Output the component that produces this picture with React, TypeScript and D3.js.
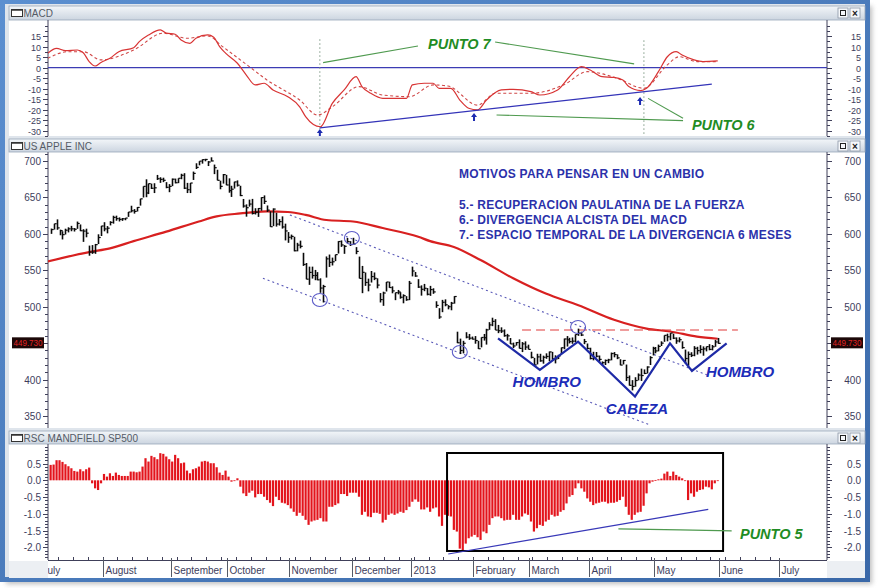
import React, { useEffect, useRef } from "react";
import * as d3 from "d3";

// ---------------- DATA ----------------
const monthLabels = ["July", "August", "September", "October", "November", "December", "2013", "February", "March", "April", "May", "June", "July"];
const monthStarts = [-21, 0, 23, 42, 63, 84, 104, 125, 144, 164, 186, 208, 228];
const firstBarIndex = -18;

// [high, low, close] per trading day
const barsJul = [[607.3, 600.0, 605.9], [613.9, 605.9, 613.9], [619.9, 605.6, 608.2], [605.8, 598.1, 604.4], [603.6, 592.3, 598.9], [607.1, 599.1, 605.0], [609.0, 602.0, 606.9], [611.0, 603.6, 606.9], [608.0, 603.2, 606.3], [616.9, 606.9, 614.3], [612.9, 603.7, 604.3], [606.4, 589.0, 603.8], [607.1, 595.3, 600.9], [583.9, 570.0, 575.0], [584.6, 572.5, 574.9], [586.2, 572.6, 585.2], [599.4, 586.0, 595.0], [611.0, 597.1, 610.8]];
const barsAug = [[616.0, 603.5, 606.8], [610.7, 600.7, 607.8], [617.4, 611.6, 615.7], [624.9, 614.0, 622.6], [625.0, 618.0, 620.9], [622.6, 617.0, 619.9], [621.8, 617.8, 620.7], [621.8, 618.7, 621.7], [630.0, 623.3, 630.0], [638.6, 629.5, 631.7], [634.0, 627.8, 630.8], [636.8, 630.7, 636.3], [648.2, 638.8, 648.1], [665.2, 649.9, 665.2], [674.9, 650.3, 656.1], [669.0, 654.6, 668.9], [669.0, 661.6, 662.6], [669.5, 656.0, 663.2], [680.9, 674.0, 675.7], [677.7, 670.0, 674.8], [677.1, 671.0, 673.5], [671.0, 662.6, 663.9], [668.3, 657.2, 665.2]];
const barsSep = [[676.0, 665.5, 675.0], [675.9, 669.3, 670.2], [676.3, 669.6, 676.3], [682.5, 675.0, 680.4], [683.3, 661.5, 662.7], [670.0, 656.0, 660.6], [669.9, 656.0, 669.8], [685.5, 674.0, 683.0], [696.9, 689.0, 691.3], [699.8, 694.1, 699.8], [702.3, 696.4, 701.9], [703.0, 699.6, 702.1], [699.9, 693.1, 698.7], [705.1, 699.4, 700.1], [695.1, 682.0, 690.8], [688.0, 673.4, 673.5], [673.0, 661.2, 665.2], [682.2, 669.0, 681.3], [681.0, 666.8, 667.1]];
const barsOct = [[676.2, 656.5, 659.4], [666.0, 650.7, 661.3], [671.6, 662.2, 671.3], [673.4, 664.9, 666.8], [666.0, 651.8, 652.6], [647.9, 636.0, 638.2], [640.5, 623.6, 635.9], [647.0, 637.4, 640.9], [648.0, 626.6, 628.1], [635.2, 626.6, 629.7], [635.5, 623.3, 634.8], [650.3, 631.7, 649.8], [652.8, 641.0, 644.6], [639.0, 630.1, 632.6], [631.0, 609.6, 609.8], [635.0, 610.6, 634.0], [628.9, 610.0, 613.4], [620.3, 611.4, 616.8], [624.0, 607.2, 609.5], [614.0, 591.0, 604.0], [602.5, 587.7, 595.3]];
const barsNov = [[599.0, 592.3, 596.5], [596.0, 576.0, 576.8], [587.7, 576.0, 584.6], [590.7, 580.1, 582.9], [574.0, 556.0, 558.0], [560.0, 537.6, 537.8], [555.0, 530.0, 547.1], [555.0, 538.6, 542.8], [550.5, 536.4, 542.9], [547.5, 536.3, 536.9], [539.0, 519.1, 525.6], [530.0, 505.8, 527.7], [569.0, 540.0, 565.7], [571.6, 554.6, 560.9], [567.4, 556.6, 561.7], [571.5, 562.6, 571.5], [590.0, 573.0, 589.5], [591.0, 582.1, 584.8], [584.6, 572.6, 582.9], [594.3, 586.8, 589.4], [590.0, 583.3, 585.3]];
const barsDec = [[594.6, 585.5, 586.2], [581.8, 572.1, 575.9], [568.8, 538.8, 538.8], [556.0, 518.6, 547.2], [547.0, 528.6, 533.3], [538.5, 521.1, 529.8], [549.0, 533.2, 541.4], [547.0, 536.5, 539.0], [539.0, 525.2, 529.7], [518.7, 505.8, 509.8], [520.6, 501.2, 518.8], [533.9, 520.9, 533.9], [534.4, 525.9, 526.3], [528.0, 518.4, 521.7], [519.3, 509.0, 519.3], [523.0, 517.0, 520.2], [519.9, 511.0, 513.0], [517.0, 504.7, 515.1], [514.5, 508.1, 509.6], [535.4, 509.0, 532.2]];
const barsJan = [[555.0, 541.6, 549.0], [547.7, 541.0, 542.1], [537.8, 525.8, 527.0], [529.3, 515.2, 523.9], [531.3, 521.3, 525.3], [525.6, 515.6, 517.1], [528.6, 514.9, 523.5], [525.3, 517.7, 520.3], [507.5, 498.5, 501.8], [498.0, 483.4, 485.9], [509.4, 492.5, 506.1], [510.1, 500.6, 502.7], [502.2, 496.4, 500.0], [506.6, 495.1, 504.8], [514.5, 504.2, 514.0], [465.7, 450.0, 450.5], [456.2, 435.0, 439.9], [453.2, 435.9, 449.8], [465.0, 456.6, 458.3], [462.6, 454.5, 456.8], [459.0, 455.0, 455.5]];
const barsFeb = [[459.7, 449.2, 453.6], [453.2, 442.0, 442.3], [458.0, 444.2, 457.8], [462.6, 453.5, 457.4], [469.7, 448.0, 468.2], [478.8, 468.3, 475.0], [484.9, 473.3, 479.9], [482.9, 467.9, 467.9], [475.0, 463.7, 467.0], [471.7, 464.0, 466.6], [468.8, 458.8, 460.2], [462.7, 453.5, 460.0], [457.0, 448.7, 448.9], [450.7, 443.3, 446.1], [451.5, 446.6, 450.8], [455.1, 442.6, 442.8], [451.5, 437.7, 449.0], [452.4, 440.7, 444.6], [447.9, 441.4, 441.4]];
const barsMar = [[438.2, 429.0, 430.5], [429.8, 419.0, 420.1], [435.4, 420.8, 431.1], [435.4, 424.4, 425.7], [432.8, 421.8, 430.6], [436.0, 428.5, 431.7], [438.5, 425.1, 437.9], [438.0, 427.2, 428.4], [433.3, 422.2, 428.4], [434.0, 428.1, 432.5], [444.0, 435.0, 443.7], [456.3, 441.6, 455.7], [459.7, 445.3, 454.5], [457.3, 449.6, 452.1], [457.8, 449.1, 452.7], [462.0, 451.0, 461.9], [469.9, 460.0, 463.6], [465.7, 459.7, 461.1], [455.8, 448.6, 452.1], [449.5, 441.6, 442.7]];
const barsApr = [[443.7, 427.7, 428.9], [438.1, 426.4, 429.8], [437.8, 430.3, 432.0], [433.0, 424.4, 427.7], [424.9, 419.7, 423.2], [427.5, 420.0, 426.2], [428.5, 422.5, 427.0], [437.1, 426.4, 435.7], [437.7, 430.5, 434.3], [434.6, 428.0, 429.8], [427.9, 419.6, 419.9], [426.9, 420.7, 426.2], [420.6, 398.1, 402.8], [405.6, 391.7, 392.1], [399.2, 385.1, 390.5], [403.2, 390.3, 398.7], [408.4, 398.8, 406.1], [415.0, 398.1, 405.5], [413.9, 407.4, 408.4], [418.2, 408.3, 417.2], [432.1, 420.0, 430.1], [445.0, 433.1, 442.8]];
const barsMay = [[444.7, 436.1, 439.3], [448.0, 438.7, 445.5], [452.5, 446.1, 450.0], [460.7, 451.8, 460.7], [463.0, 452.5, 458.7], [463.8, 454.0, 463.8], [463.0, 455.6, 456.8], [457.9, 449.1, 453.0], [458.0, 451.0, 454.7], [452.5, 442.3, 443.9], [441.1, 422.0, 428.9], [438.5, 418.9, 434.6], [437.5, 430.9, 433.3], [445.9, 432.0, 442.9], [445.0, 434.3, 439.7], [447.2, 436.0, 441.4], [445.5, 432.7, 442.1], [445.3, 438.7, 445.2], [448.6, 440.2, 441.4], [447.4, 440.1, 445.0], [454.4, 445.0, 451.6], [457.1, 449.0, 449.7]];
const lastPrice = 449.73;

// moving average [barIndex, value]
const maPoints = [[-19, 562], [-5, 575], [2, 580], [10, 590], [21, 603], [32, 617], [38, 624], [46, 628], [55, 631], [62, 630], [68, 626], [75, 619], [84, 617], [94, 608], [106, 596], [110, 590], [118, 582], [127, 564], [138, 539], [149, 518], [160, 502], [172, 482], [183, 470], [191, 466], [200, 459], [207, 456]];

// MACD and signal [barIndex, value]
const macdLine = [[-19, 6.9], [-16, 9.2], [-13, 8.1], [-9, 8.4], [-7, 7.1], [-5, 2.9], [-3, 0.8], [-1, 2.5], [2, 4.5], [5, 7.6], [10, 9.5], [12, 12.5], [15, 15.5], [19, 18.0], [21, 16.4], [24, 15.9], [26, 13.2], [29, 11.6], [31, 14.0], [35, 15.6], [37, 14.5], [39, 10.0], [41, 6.9], [45, 2.1], [48, -3.5], [51, -8.2], [54, -7.4], [57, -10.6], [62, -13.8], [66, -18.6], [68, -23.3], [73, -28.1], [77, -17.0], [81, -10.6], [85, -4.3], [87, -9.0], [90, -12.2], [94, -14.6], [98, -14.6], [102, -14.6], [104, -8.2], [108, -7.4], [111, -7.4], [113, -9.8], [117, -9.8], [120, -15.4], [123, -19.3], [126, -20.1], [129, -15.4], [134, -10.6], [138, -10.3], [144, -11.4], [147, -13.0], [153, -10.6], [157, -4.3], [161, 0.5], [164, -1.1], [168, -4.3], [172, -4.6], [175, -5.9], [177, -9.0], [181, -10.9], [183, -9.8], [187, -1.9], [190, 5.2], [193, 7.6], [195, 6.0], [199, 3.7], [202, 2.9], [207, 3.2]];
const macdSignal = [[-19, 4.5], [-12, 7.6], [-7, 7.6], [-1, 3.7], [10, 8.4], [20, 16.4], [28, 14.0], [35, 15.1], [40, 10.0], [49, 0.5], [55, -5.9], [66, -15.4], [72, -22.5], [77, -18.6], [86, -9.0], [94, -13.0], [103, -13.8], [111, -8.2], [116, -8.7], [126, -17.8], [132, -12.2], [144, -12.2], [155, -8.2], [163, -1.9], [173, -5.0], [182, -9.8], [190, 1.3], [194, 5.2], [200, 2.9], [207, 2.9]];

// RSC Mansfield vs SP500, one value per bar from index -18
const rscValues = [
  0.46, 0.47, 0.6, 0.6, 0.55, 0.48, 0.42, 0.36, 0.28, 0.26, 0.33, 0.27, 0.33, 0.38, -0.09, -0.24, -0.29, -0.09,
  0.19, 0.11, 0.21, 0.13, 0.23, 0.16, 0.13, 0.13, 0.13, 0.26,
  0.26, 0.24, 0.26, 0.41, 0.66, 0.56, 0.73, 0.69, 0.63, 0.81,
  0.79, 0.71, 0.63, 0.56, 0.76, 0.66, 0.51, 0.53, 0.29, 0.21,
  0.33, 0.36, 0.41, 0.56, 0.58, 0.56, 0.51, 0.51, 0.39, 0.23,
  0.16, 0.29, 0.11, -0.04, -0.01, 0.06, -0.19, -0.39, -0.47, -0.37,
  -0.31, -0.51, -0.41, -0.41, -0.49, -0.59, -0.67, -0.77, -0.49, -0.59,
  -0.67, -0.69, -0.74, -0.84, -0.94, -1.06, -0.97, -1.06, -1.18, -1.33,
  -1.23, -1.2, -1.18, -1.13, -1.23, -1.23, -0.79, -0.79, -0.74, -0.69,
  -0.41, -0.41, -0.47, -0.37, -0.37, -0.37, -0.49, -1.03, -0.94, -1.08,
  -1.1, -0.97, -0.97, -1.0, -1.26, -1.18, -1.03, -0.99, -1.03, -0.99,
  -0.94, -0.97, -0.89, -0.79, -0.64, -0.57, -0.64, -0.87, -0.87, -0.81,
  -0.94, -0.84, -0.81, -1.08, -1.36, -1.03, -1.06, -1.08, -1.48, -1.53,
  -2.04, -2.13, -1.89, -1.73, -1.68, -1.63, -1.7, -1.78, -1.53, -1.58,
  -1.33, -1.13, -1.08, -1.08, -1.13, -1.2, -1.18, -1.18, -1.03, -1.18,
  -1.18, -1.08, -0.99, -1.03, -1.23, -1.53, -1.43, -1.33, -1.36, -1.23,
  -1.18, -1.03, -1.08, -1.06, -0.94, -0.89, -0.69, -0.49, -0.44, -0.24,
  -0.09, -0.24, -0.34, -0.54, -0.64, -0.74, -0.69, -0.67, -0.64, -0.64,
  -0.69, -0.67, -0.67, -0.64, -0.59, -0.49, -0.79, -1.03, -1.18, -1.03,
  -0.96, -0.94, -0.76, -0.39, -0.09, -0.04, 0.01, 0.03, 0.05, 0.2,
  0.26, 0.13, 0.26, 0.16, 0.11, 0.06, -0.01, -0.59, -0.39, -0.49,
  -0.34, -0.29, -0.27, -0.19, -0.21, -0.27, -0.09, -0.01
];

// tick labels (450 is hidden under the last-price box)
const macdTicks = [15, 10, 5, 0, -5, -10, -15, -20, -25, -30];
const priceTicks = [700, 650, 600, 550, 500, 400, 350];
const priceTickHidden = [450];
const rscTicks = [0.5, 0, -0.5, -1, -1.5, -2];

// annotations (data coordinates)
const macdSupport = [[72.8, -28.6], [205, -7.8]];
const macdVLines = [[72.8, 13.5, -30.5], [182.1, 13, -32.5]];
const macdArrows = [[72.8, -29.2], [124.8, -21.6], [180.8, -14.0]];
const punto7Lines = [[[73.9, 2.4], [105.9, 10.3]], [[131.9, 12.2], [178.8, 1.8]]];
const punto6Lines = [[[132.4, -22.5], [195.3, -25.2]], [[183.5, -14.6], [195.3, -24.1]]];
const punto7Label = [109.3, 8.9];
const punto6Label = [198.3, -29.7];
const channelUpper = [[62.7, 626], [203.4, 406.3]];
const channelLower = [[53.6, 539], [184.1, 337.7]];
const circles = [[72.8, 509.2], [83.6, 594.3], [120, 437.9], [159.9, 472.2]];
const resistance = [[141, 468], [213.8, 468]];
const headShoulders = [[132.9, 456.7], [147, 413.2], [159.9, 452.1], [179.1, 376.6], [190.9, 449.8], [198.3, 411.8], [210, 449.8]];
const notes = ["MOTIVOS PARA PENSAR EN UN CAMBIO", "5.- RECUPERACION PAULATINA DE LA FUERZA", "6.- DIVERGENCIA ALCISTA DEL MACD", "7.- ESPACIO TEMPORAL DE LA DIVERGENCIA 6 MESES"];
const notePos = [[119.7, 677], [119.7, 634.1], [119.7, 613.1], [119.7, 592.5]];
const patternLabels = [["HOMBRO", 137.8, 390.2], ["CABEZA", 169.2, 352.3], ["HOMBRO", 203, 403]];
const rscBox = [[115.7, 0.815], [208.8, -2.11]];
const rscSupport = [[116.1, -2.2], [203.8, -0.866]];
const punto5Line = [[173.5, -1.45], [194.3, -1.48], [211.7, -1.51]];
const punto5Label = [214.5, -1.75];

const FONT = "'Liberation Sans', Arial, Helvetica, sans-serif";

export default function App() {
  const ref = useRef<SVGSVGElement | null>(null);

  useEffect(() => {
    const svg = d3.select(ref.current);
    svg.selectAll("*").remove();

    const L = 48, R = 827, PX0 = 9, PX1 = 865;
    const P1 = { hdr: 6, top: 20, bottom: 136, title: "MACD" };
    const P2 = { hdr: 139, top: 152, bottom: 428, title: "US APPLE INC" };
    const P3 = { hdr: 431, top: 444, bottom: 560, title: "RSC MANDFIELD SP500" };

    const x = d3.scaleLinear().domain([0, 228]).range([104, 780]);
    const yM = d3.scaleLinear().domain([-32.5, 22.2]).range([P1.bottom, 21]);
    const yP = d3.scaleLinear().domain([333.5, 711]).range([P2.bottom, 153]);
    const yR = d3.scaleLinear().domain([-2.379, 1.054]).range([P3.bottom, 445]);

    const defs = svg.append("defs");
    const flt = defs.append("filter").attr("id", "shadow").attr("x", "-5%").attr("y", "-5%").attr("width", "110%").attr("height", "110%");
    flt.append("feGaussianBlur").attr("stdDeviation", 2.5);
    const grad = defs.append("linearGradient").attr("id", "hdr").attr("x1", 0).attr("y1", 0).attr("x2", 0).attr("y2", 1);
    grad.append("stop").attr("offset", "0%").attr("stop-color", "#f3f6f9");
    grad.append("stop").attr("offset", "100%").attr("stop-color", "#ccd5e0");
    const bgrad = defs.append("linearGradient").attr("id", "frame").attr("x1", 0).attr("y1", 0).attr("x2", 1).attr("y2", 1);
    bgrad.append("stop").attr("offset", "0%").attr("stop-color", "#5b8fd0");
    bgrad.append("stop").attr("offset", "100%").attr("stop-color", "#3a68a8");

    [P1, P2, P3].forEach((p, i) => {
      defs.append("clipPath").attr("id", "clip" + i).append("rect")
        .attr("x", L).attr("y", p.top).attr("width", R - L).attr("height", p.bottom - p.top);
    });
    defs.append("clipPath").attr("id", "clipAxis").append("rect").attr("x", L).attr("y", 555).attr("width", R - L).attr("height", 25);

    // background, shadow and window frame
    svg.append("rect").attr("width", 878).attr("height", 588).attr("fill", "#ffffff");
    svg.append("rect").attr("x", 6).attr("y", 6).attr("width", 866).attr("height", 578).attr("fill", "#8a8a8a").attr("opacity", 0.55).attr("filter", "url(#shadow)");
    svg.append("rect").attr("x", 2.5).attr("y", 1.5).attr("width", 865).attr("height", 578).attr("fill", "#dfe5ec").attr("stroke", "url(#frame)").attr("stroke-width", 5);

    const panel = (p: any) => {
      svg.append("rect").attr("x", PX0).attr("y", p.top).attr("width", PX1 - PX0).attr("height", p.bottom - p.top + (p === P3 ? 18 : 0)).attr("fill", "#ffffff");
      svg.append("rect").attr("x", PX0).attr("y", p.hdr).attr("width", PX1 - PX0).attr("height", p.top - p.hdr).attr("fill", "url(#hdr)").attr("stroke", "#9aa8b8").attr("stroke-width", 0.8);
      svg.append("rect").attr("x", 11.5).attr("y", p.hdr + 3.5).attr("width", 11).attr("height", 7).attr("fill", "#ffffff").attr("stroke", "#333").attr("stroke-width", 1);
      svg.append("line").attr("x1", 11.5).attr("x2", 22.5).attr("y1", p.hdr + 4).attr("y2", p.hdr + 4).attr("stroke", "#333").attr("stroke-width", 1.5);
      svg.append("text").attr("x", 23.5).attr("y", p.hdr + 10.5).attr("font-family", FONT).attr("font-size", 10).attr("fill", "#555b66").text(p.title);
      [838, 850].forEach((b, k) => {
        svg.append("rect").attr("x", b).attr("y", p.hdr + 2).attr("width", 10).attr("height", 10).attr("fill", "#f5f7fa").attr("stroke", "#8a96a6").attr("stroke-width", 0.8);
        if (k === 0) {
          svg.append("rect").attr("x", b + 2.5).attr("y", p.hdr + 4.5).attr("width", 5).attr("height", 5).attr("fill", "none").attr("stroke", "#222").attr("stroke-width", 1);
        } else {
          svg.append("text").attr("x", b + 5).attr("y", p.hdr + 10.5).attr("text-anchor", "middle").attr("font-family", FONT).attr("font-size", 10).attr("font-weight", "bold").attr("fill", "#222").text("×");
        }
      });
    };
    panel(P1);
    panel(P2);
    panel(P3);
    svg.append("rect").attr("x", PX0).attr("y", 561).attr("width", L - PX0).attr("height", 17).attr("fill", "#eceff3");
    svg.append("rect").attr("x", R).attr("y", 561).attr("width", PX1 - R).attr("height", 17).attr("fill", "#eceff3");

    // Y axes
    const yAxis = (scale: any, p: any, major: number[], hidden: number[], minorStep: number, fmt: (v: number) => string, fs: number) => {
      const [d0, d1] = scale.domain();
      const minors: number[] = [];
      for (let v = Math.ceil(d0 / minorStep) * minorStep; v <= d1 + 1e-9; v += minorStep) minors.push(v);
      const g = svg.append("g").attr("stroke", "#40405a").attr("stroke-width", 1);
      g.append("line").attr("x1", L).attr("x2", L).attr("y1", p.top).attr("y2", p.bottom);
      g.append("line").attr("x1", R).attr("x2", R).attr("y1", p.top).attr("y2", p.bottom);
      minors.forEach((v) => {
        const yy = Math.round(scale(v)) + 0.5;
        g.append("line").attr("x1", L - 3).attr("x2", L).attr("y1", yy).attr("y2", yy);
        g.append("line").attr("x1", R).attr("x2", R + 3).attr("y1", yy).attr("y2", yy);
      });
      [...major, ...hidden].forEach((v) => {
        const yy = Math.round(scale(v)) + 0.5;
        g.append("line").attr("x1", L - 5).attr("x2", L).attr("y1", yy).attr("y2", yy);
        g.append("line").attr("x1", R).attr("x2", R + 5).attr("y1", yy).attr("y2", yy);
      });
      major.forEach((v) => {
        const yy = Math.round(scale(v)) + 0.5;
        svg.append("text").attr("x", L - 7).attr("y", yy).attr("dy", "0.36em").attr("text-anchor", "end").attr("font-family", FONT).attr("font-size", fs).attr("fill", "#3d3d5c").text(fmt(v));
        svg.append("text").attr("x", 861).attr("y", yy).attr("dy", "0.36em").attr("text-anchor", "end").attr("font-family", FONT).attr("font-size", fs).attr("fill", "#3d3d5c").text(fmt(v));
      });
    };
    yAxis(yM, P1, macdTicks, [], 2.5, (v) => String(v), 9);
    yAxis(yP, P2, priceTicks, priceTickHidden, 10, (v) => String(v), 10);
    yAxis(yR, P3, rscTicks, [], 0.1, (v) => v.toFixed(1), 10);

    // ---------- MACD panel ----------
    const g1 = svg.append("g").attr("clip-path", "url(#clip0)");
    g1.append("line").attr("x1", L).attr("x2", R).attr("y1", yM(0)).attr("y2", yM(0)).attr("stroke", "#3c3cb4").attr("stroke-width", 1.2);
    macdVLines.forEach((v) => {
      g1.append("line").attr("x1", x(v[0])).attr("x2", x(v[0])).attr("y1", yM(v[1])).attr("y2", yM(v[2]))
        .attr("stroke", "#7f9a86").attr("stroke-width", 1).attr("stroke-dasharray", "1.5,2.5");
    });
    const lineGen = d3.line<number[]>().x((d) => x(d[0])).curve(d3.curveMonotoneX);
    g1.append("path").attr("d", lineGen.y((d) => yM(d[1]))(macdSignal)).attr("fill", "none").attr("stroke", "#d04848").attr("stroke-width", 1.1).attr("stroke-dasharray", "3,2.5");
    g1.append("path").attr("d", lineGen.y((d) => yM(d[1]))(macdLine)).attr("fill", "none").attr("stroke", "#d83434").attr("stroke-width", 1.2);
    g1.append("line").attr("x1", x(macdSupport[0][0])).attr("y1", yM(macdSupport[0][1])).attr("x2", x(macdSupport[1][0])).attr("y2", yM(macdSupport[1][1])).attr("stroke", "#3434b8").attr("stroke-width", 1.3);
    const green = "#4f9a4f";
    [...punto7Lines, ...punto6Lines].forEach((seg) => {
      g1.append("line").attr("x1", x(seg[0][0])).attr("y1", yM(seg[0][1])).attr("x2", x(seg[1][0])).attr("y2", yM(seg[1][1])).attr("stroke", green).attr("stroke-width", 1.1);
    });
    macdArrows.forEach((a) => {
      const ax = x(a[0]), ay = yM(a[1]);
      g1.append("path").attr("d", `M${ax},${ay} L${ax - 3},${ay + 4} L${ax - 1},${ay + 4} L${ax - 1},${ay + 8} L${ax + 1},${ay + 8} L${ax + 1},${ay + 4} L${ax + 3},${ay + 4} Z`).attr("fill", "#1c2ab0");
    });
    const ptext = (g: any, pos: number[], yS: any, t: string) =>
      g.append("text").attr("x", x(pos[0])).attr("y", yS(pos[1])).attr("font-family", FONT).attr("font-size", 14.5).attr("font-weight", "bold").attr("font-style", "italic").attr("fill", "#1f8c24").text(t);
    ptext(svg, punto7Label, yM, "PUNTO 7");
    ptext(svg, punto6Label, yM, "PUNTO 6");

    // ---------- Price panel ----------
    const g2 = svg.append("g").attr("clip-path", "url(#clip1)");
    const allBars = [...barsJul, ...barsAug, ...barsSep, ...barsOct, ...barsNov, ...barsDec, ...barsJan, ...barsFeb, ...barsMar, ...barsApr, ...barsMay];
    g2.append("path").attr("d", lineGen.y((d) => yP(d[1]))(maPoints)).attr("fill", "none").attr("stroke", "#d82020").attr("stroke-width", 2.2);
    [channelUpper, channelLower].forEach((c) => {
      g2.append("line").attr("x1", x(c[0][0])).attr("y1", yP(c[0][1])).attr("x2", x(c[1][0])).attr("y2", yP(c[1][1])).attr("stroke", "#5a5ab8").attr("stroke-width", 1.1).attr("stroke-dasharray", "2,3");
    });
    g2.append("line").attr("x1", x(resistance[0][0])).attr("y1", yP(resistance[0][1])).attr("x2", x(resistance[1][0])).attr("y2", yP(resistance[1][1])).attr("stroke", "#e03a3a").attr("stroke-width", 1.2).attr("stroke-dasharray", "9,5");
    const bg = g2.append("g").attr("stroke", "#0a0a0a").attr("stroke-width", 1.6);
    allBars.forEach((b, i) => {
      const bx = Math.round(x(firstBarIndex + i)) + 0.5;
      bg.append("line").attr("x1", bx).attr("x2", bx).attr("y1", yP(b[0])).attr("y2", yP(b[1]));
      bg.append("line").attr("x1", bx).attr("x2", bx + 2.2).attr("y1", yP(b[2])).attr("y2", yP(b[2])).attr("stroke-width", 1.2);
    });
    circles.forEach((c) => {
      g2.append("ellipse").attr("cx", x(c[0])).attr("cy", yP(c[1])).attr("rx", 7.5).attr("ry", 6.5).attr("fill", "none").attr("stroke", "#5a5ac8").attr("stroke-width", 1.1);
    });
    g2.append("path").attr("d", d3.line<number[]>().x((d) => x(d[0])).y((d) => yP(d[1]))(headShoulders)).attr("fill", "none").attr("stroke", "#1e2aa6").attr("stroke-width", 2.2).attr("stroke-linejoin", "miter");
    notes.forEach((t, i) => {
      svg.append("text").attr("x", x(notePos[i][0])).attr("y", yP(notePos[i][1])).attr("font-family", FONT).attr("font-size", 12).attr("font-weight", "bold").attr("letter-spacing", 0.25).attr("fill", "#2b31aa").text(t);
    });
    patternLabels.forEach((p) => {
      svg.append("text").attr("x", x(p[1] as number)).attr("y", yP(p[2] as number)).attr("font-family", FONT).attr("font-size", 15).attr("font-weight", "bold").attr("font-style", "italic").attr("fill", "#1c2cb8").text(p[0] as string);
    });
    const ly = yP(lastPrice);
    [[12, 32], [831, 32]].forEach((bx) => {
      svg.append("rect").attr("x", bx[0]).attr("y", ly - 6).attr("width", bx[1]).attr("height", 11).attr("fill", "#1c0808");
      svg.append("text").attr("x", bx[0] + 1.5).attr("y", ly).attr("dy", "0.35em").attr("textLength", bx[1] - 3).attr("lengthAdjust", "spacingAndGlyphs").attr("font-family", FONT).attr("font-size", 9).attr("fill", "#e02424").text(lastPrice.toFixed(3));
    });

    // ---------- RSC panel ----------
    const g3 = svg.append("g").attr("clip-path", "url(#clip2)");
    rscValues.forEach((v, i) => {
      const bx = x(firstBarIndex + i);
      const y0 = yR(0), y1 = yR(v);
      g3.append("rect").attr("x", bx - 1.1).attr("width", 2.2).attr("y", Math.min(y0, y1)).attr("height", Math.max(0.8, Math.abs(y1 - y0))).attr("fill", "#e3141c");
    });
    g3.append("rect").attr("x", x(rscBox[0][0])).attr("y", yR(rscBox[0][1])).attr("width", x(rscBox[1][0]) - x(rscBox[0][0])).attr("height", yR(rscBox[1][1]) - yR(rscBox[0][1])).attr("fill", "none").attr("stroke", "#000").attr("stroke-width", 2);
    g3.append("line").attr("x1", x(rscSupport[0][0])).attr("y1", yR(rscSupport[0][1])).attr("x2", x(rscSupport[1][0])).attr("y2", yR(rscSupport[1][1])).attr("stroke", "#3838b8").attr("stroke-width", 1.2);
    g3.append("path").attr("d", d3.line<number[]>().x((d) => x(d[0])).y((d) => yR(d[1]))(punto5Line)).attr("fill", "none").attr("stroke", green).attr("stroke-width", 1.1);
    ptext(svg, punto5Label, yR, "PUNTO 5");

    // ---------- time axis ----------
    const ax = svg.append("g");
    ax.append("line").attr("x1", L).attr("x2", R).attr("y1", 560.5).attr("y2", 560.5).attr("stroke", "#40405a");
    d3.range(-20, 228, 5).forEach((i) => {
      const tx = Math.round(x(i - 0.5)) + 0.5;
      if (tx > L && tx < R) ax.append("line").attr("x1", tx).attr("x2", tx).attr("y1", 557).attr("y2", 560.5).attr("stroke", "#40405a");
    });
    const axc = ax.append("g").attr("clip-path", "url(#clipAxis)");
    monthStarts.forEach((m, i) => {
      const tx = Math.round(x(m - 0.5)) + 0.5;
      axc.append("line").attr("x1", tx).attr("x2", tx).attr("y1", 558).attr("y2", 577).attr("stroke", "#555a66").attr("stroke-width", 1);
      axc.append("text").attr("x", tx + 2).attr("y", 574).attr("font-family", FONT).attr("font-size", 10).attr("fill", "#3d3d5c").text(monthLabels[i]);
    });
  }, []);

  return <svg ref={ref} width={878} height={588} style={{ position: "absolute", left: 0, top: 0, display: "block" }} />;
}
